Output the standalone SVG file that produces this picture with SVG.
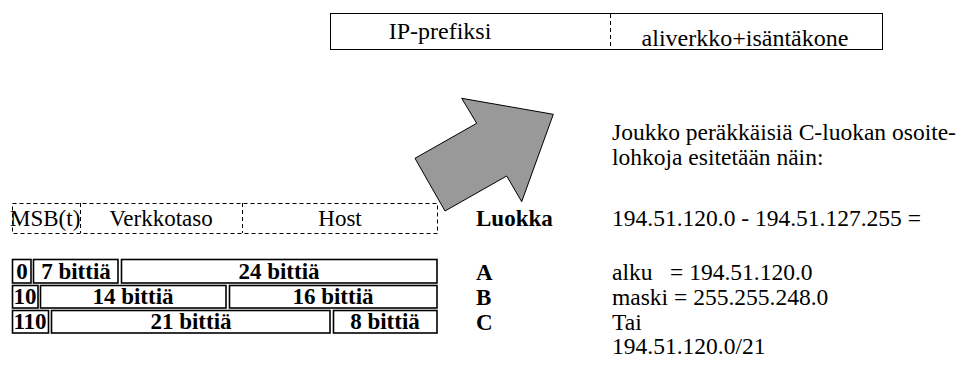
<svg xmlns="http://www.w3.org/2000/svg" width="963" height="371" viewBox="0 0 963 371">
<style>
text{font-family:"Liberation Serif","Times New Roman",serif;fill:#000}
.t{font-size:23px}
.h{font-size:24px}
.b{font-size:23px;font-weight:bold}
.r{font-size:23.5px}
.cell{fill:#fff;stroke:#000;stroke-width:1.6}
.dash{fill:none;stroke:#000;stroke-width:1;stroke-dasharray:4,3}
</style>
<rect x="0" y="0" width="963" height="371" fill="#fff"/>
<g id="topbox">
<rect x="330.5" y="13.5" width="552" height="36" fill="#fff" stroke="#000" stroke-width="1"/>
<line x1="610.5" y1="14" x2="610.5" y2="49" class="dash"/>
<text class="h" x="440" y="39" text-anchor="middle">IP-prefiksi</text>
<text class="h" x="745" y="46" text-anchor="middle">aliverkko+isäntäkone</text>
</g>
<g id="arrow">
<polygon points="476.7,123.3 461.7,98.3 553.3,114.3 521.7,201.7 506.7,176 445,211 415,158.3" fill="#999" stroke="#000" stroke-width="1"/>
</g>
<g id="dashbox">
<rect x="12.5" y="203.5" width="425" height="30" class="dash"/>
<line x1="80.5" y1="203" x2="80.5" y2="233" class="dash"/>
<line x1="242.5" y1="203" x2="242.5" y2="233" class="dash"/>
<text class="t" x="10" y="226">MSB(t)</text>
<text class="t" x="161" y="226" text-anchor="middle">Verkkotaso</text>
<text class="t" x="340" y="226" text-anchor="middle">Host</text>
</g>
<g id="rowA">
<rect class="cell" x="12.5" y="259.5" width="18.5" height="23.5"/>
<rect class="cell" x="33.5" y="259.5" width="84.5" height="23.5"/>
<rect class="cell" x="121.5" y="259.5" width="315.5" height="23.5"/>
<text class="b" x="22" y="279" text-anchor="middle">0</text>
<text class="b" x="76" y="279" text-anchor="middle">7 bittiä</text>
<text class="b" x="279" y="279" text-anchor="middle">24 bittiä</text>
</g>
<g id="rowB">
<rect class="cell" x="12.5" y="285.5" width="25.5" height="22.5"/>
<rect class="cell" x="40.5" y="285.5" width="185.5" height="22.5"/>
<rect class="cell" x="229.5" y="285.5" width="207.5" height="22.5"/>
<text class="b" x="25" y="304" text-anchor="middle">10</text>
<text class="b" x="133" y="304" text-anchor="middle">14 bittiä</text>
<text class="b" x="333" y="304" text-anchor="middle">16 bittiä</text>
</g>
<g id="rowC">
<rect class="cell" x="12.5" y="310.5" width="36" height="22.5"/>
<rect class="cell" x="51.5" y="310.5" width="278.5" height="22.5"/>
<rect class="cell" x="333.5" y="310.5" width="103.5" height="22.5"/>
<text class="b" x="30" y="329" text-anchor="middle">110</text>
<text class="b" x="191" y="329" text-anchor="middle">21 bittiä</text>
<text class="b" x="385" y="329" text-anchor="middle">8 bittiä</text>
</g>
<g id="classes">
<text class="b" x="476" y="226">Luokka</text>
<text class="b" x="476" y="280">A</text>
<text class="b" x="476" y="305">B</text>
<text class="b" x="476" y="330">C</text>
</g>
<g id="notes">
<text class="r" x="612" y="140">Joukko peräkkäisiä C-luokan osoite-</text>
<text class="r" x="612" y="165">lohkoja esitetään näin:</text>
<text class="r" x="612" y="226">194.51.120.0 - 194.51.127.255 =</text>
<text class="r" x="612" y="280" xml:space="preserve">alku   = 194.51.120.0</text>
<text class="r" x="612" y="305">maski = 255.255.248.0</text>
<text class="r" x="612" y="330">Tai</text>
<text class="r" x="612" y="354">194.51.120.0/21</text>
</g>
</svg>
